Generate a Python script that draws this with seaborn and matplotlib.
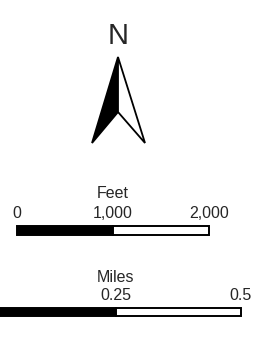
import matplotlib
matplotlib.use("Agg")
import matplotlib.pyplot as plt
from matplotlib.patches import Polygon
import seaborn as sns

# -----------------------------------------
#  Data
# -----------------------------------------

FEET_TICKS = [0, 1000, 2000]
FEET_LABELS = ["0", "1,000", "2,000"]
MILES_TICKS = [0, 0.25, 0.5]
MILES_LABELS = ["", "0.25", "0.5"]   # the 0 sits off the left edge

W, H = 262, 359

sns.set_theme(style="white")
plt.rcParams["font.family"] = ["Liberation Sans", "DejaVu Sans"]

fig = plt.figure(figsize=(W / 100, H / 100), dpi=100)
fig.patch.set_facecolor("white")


def layer(xlim):
    ax = fig.add_axes([0, 0, 1, 1])
    ax.set_xlim(*xlim)
    ax.set_ylim(H, 0)
    ax.axis("off")
    ax.patch.set_alpha(0)
    return ax


def scale_bar(ax, ticks, labels, unit, bar_top, bar_bot, label_base, unit_base):
    mid = ticks[1]
    h = bar_bot - bar_top
    yc = (bar_top + bar_bot) / 2
    ax.barh(yc, ticks[1] - ticks[0], left=ticks[0], height=h,
            color="black", edgecolor="black", linewidth=1.4)
    ax.barh(yc, ticks[2] - ticks[1], left=ticks[1], height=h,
            color="white", edgecolor="black", linewidth=1.4)
    for t, lab in zip(ticks, labels):
        if lab:
            ax.text(t, label_base, lab, ha="center", va="baseline", fontsize=11.5)
    ax.text(mid, unit_base, unit, ha="center", va="baseline", fontsize=11.5)


# north arrow (pixel space)
ax_n = layer((0, W))
ax_n.add_patch(Polygon([(118, 57), (92, 143), (118, 112)], closed=True,
                       facecolor="black", edgecolor="black", linewidth=1.3))
ax_n.add_patch(Polygon([(118, 57), (118, 112), (145, 143)], closed=True,
                       facecolor="white", edgecolor="black", linewidth=1.3,
                       joinstyle="miter"))
ax_n.text(118.5, 44, "N", ha="center", va="baseline", fontsize=21)

# feet bar: 0 ft at px 17, 2000 ft at px 209
fpp = 2000 / (209 - 17)
ax_f = layer((-17 * fpp, (W - 17) * fpp))
scale_bar(ax_f, FEET_TICKS, FEET_LABELS, "Feet", 226, 235, 218, 198)

# miles bar: 0.25 mi at px 116, 0.5 mi at px 241
mpp = 0.25 / (241 - 116)
ax_m = layer(((0 - 116) * mpp + 0.25, (W - 116) * mpp + 0.25))
scale_bar(ax_m, MILES_TICKS, MILES_LABELS, "Miles", 308, 316, 300, 282)

fig.savefig("out.png", dpi=100, facecolor="white")
